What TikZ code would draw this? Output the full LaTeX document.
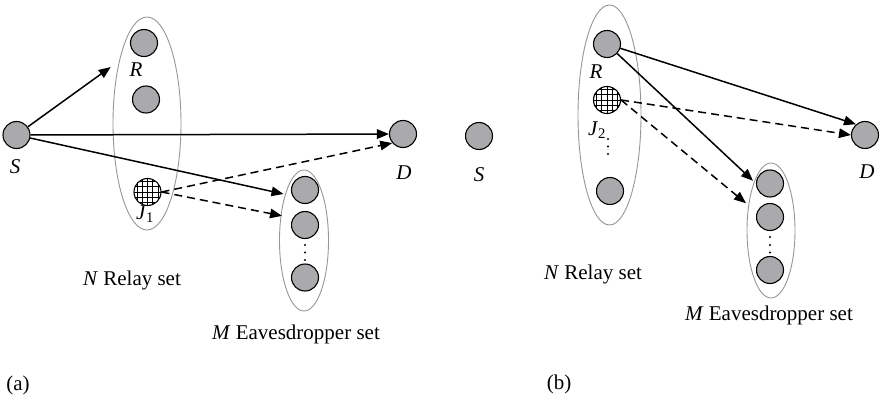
\documentclass[tikz,border=0pt]{standalone}
\usepackage{fontspec}
\setmainfont{Liberation Serif}
\usetikzlibrary{arrows.meta,shapes.geometric}
\definecolor{nodegray}{RGB}{170,170,172}
\definecolor{setgray}{RGB}{150,150,150}
\begin{document}
\begin{tikzpicture}[x=1pt,y=-1pt,
  dev/.style={circle,draw=black,line width=1.1pt,fill=nodegray,minimum size=27pt,inner sep=0pt},
  jam/.style={circle,draw=black,line width=1.1pt,fill=white,minimum size=27pt,inner sep=0pt,
    path picture={\draw[line width=0.8pt] ([shift={(-16pt,-16pt)}]path picture bounding box.center) grid[step=5.3pt] ([shift={(16pt,16pt)}]path picture bounding box.center);}},
  setbox/.style={ellipse,draw=setgray,line width=0.9pt,inner sep=0pt},
  lbl/.style={font=\fontsize{21}{25}\selectfont,inner sep=0pt},
  dotmark/.style={fill=black},
  sig/.style={line width=1.5pt,-{Triangle[length=12pt,width=9.5pt]}},
  jamsig/.style={sig,dash pattern=on 8pt off 5pt},
]
\useasboundingbox (0,0) rectangle (882,401);

% ---------- panel (a) ----------
\node[setbox,minimum width=68pt,minimum height=213pt] (relA) at (147,123.5) {};
\node[setbox,minimum width=49pt,minimum height=141pt] (eveA) at (304,240.5) {};
\node[dev] (SA) at (16.5,135) {};
\node[dev] (RA) at (144,43) {};
\node[dev] (R2A) at (146,99.5) {};
\node[jam] (JA) at (147.5,192) {};
\node[dev] (DA) at (403,134) {};
\node[dev] (E1A) at (305,190) {};
\node[dev] (E2A) at (305,225) {};
\node[dev] (E3A) at (305,277.5) {};
\foreach \yy in {245,252.5,260} \fill[dotmark] (305,\yy) circle (1.1pt);

\node[lbl] (SlA) at (15,167) {\textit{S}};
\node[lbl] (RlA) at (136,70) {\textit{R}};
\node[lbl] (JlA) at (145,214) {\textit{J}\textsubscript{1}};
\node[lbl] (DlA) at (404,173) {\textit{D}};
\node[lbl] (NA) at (132,280) {\textit{N} Relay set};
\node[lbl] (MA) at (296,334) {\textit{M} Eavesdropper set};
\node[lbl] (capA) at (18,385) {(a)};

\draw[sig,shorten >=27pt] (SA) -- (RA);
\draw[sig] (SA) -- (DA);
\draw[sig,shorten >=9pt] (SA) -- (E1A.205);
\draw[jamsig] (JA.east) -- (DA.220);
\draw[jamsig,shorten >=11pt] (JA.east) -- (E2A.150);

% ---------- panel (b) ----------
\node[setbox,minimum width=63pt,minimum height=220pt] (relB) at (609.5,115) {};
\node[setbox,minimum width=48pt,minimum height=135pt] (eveB) at (771,230.5) {};
\node[dev] (SB) at (479,136) {};
\node[dev] (RB) at (607,44) {};
\node[jam] (JB) at (607,100) {};
\node[dev] (RnB) at (610,191) {};
\node[dev] (DB) at (865,135) {};
\node[dev] (E1B) at (770,183.5) {};
\node[dev] (E2B) at (770,217) {};
\node[dev] (E3B) at (770,270) {};
\foreach \yy in {139,146.5,154} \fill[dotmark] (608,\yy) circle (1.1pt);
\foreach \yy in {237,245,252.5} \fill[dotmark] (770,\yy) circle (1.1pt);

\node[lbl] (SlB) at (479,175) {\textit{S}};
\node[lbl] (RlB) at (596,72) {\textit{R}};
\node[lbl] (JlB) at (597,130) {\textit{J}\textsubscript{2}};
\node[lbl] (DlB) at (867,172) {\textit{D}};
\node[lbl] (NB) at (593,274) {\textit{N} Relay set};
\node[lbl] (MB) at (769,315) {\textit{M} Eavesdropper set};
\node[lbl] (capB) at (559,384) {(b)};

\draw[sig] (RB) -- (DB.130);
\draw[sig,shorten >=4pt] (RB) -- (E1B.west);
\draw[jamsig] (JB.east) -- (DB.west);
\draw[jamsig,shorten >=14pt] (JB.east) -- (E2B.160);
\end{tikzpicture}
\end{document}
